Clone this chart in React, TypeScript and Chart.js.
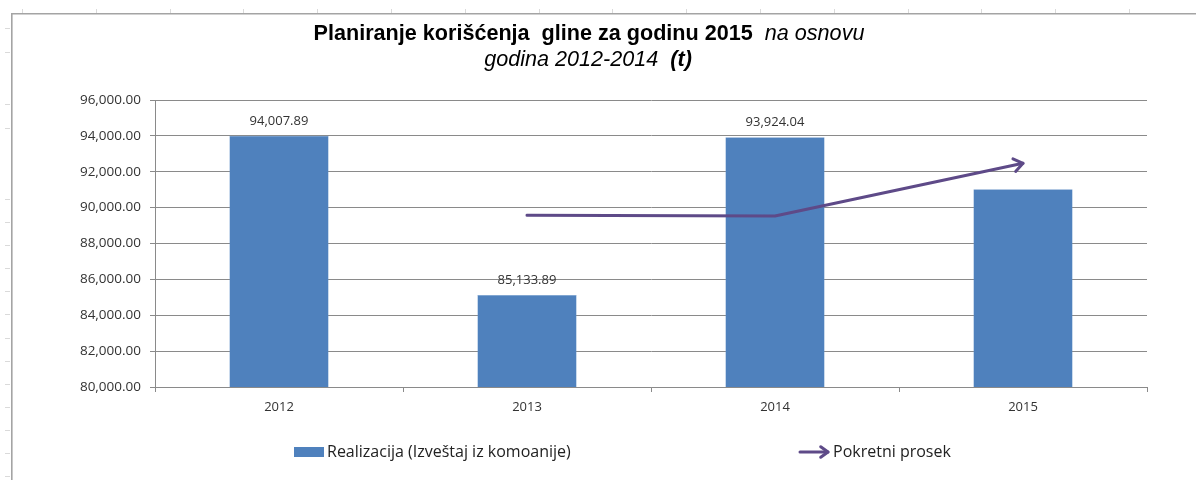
import React, { useEffect, useRef } from "react";
import { Chart, registerables } from "chart.js";

Chart.register(...registerables);

const categories = ["2012", "2013", "2014", "2015"];
const realizacija = [94007.89, 85133.89, 93924.04, 91021.94];
const pokretniProsek = [null, 89570.89, 89528.97, 92472.99];
const barLabelShown = [true, true, true, false];
const yMin = 80000;
const yMax = 96000;
const yStep = 2000;

const seriesNames = ["Realizacija (Izveštaj iz komoanije)", "Pokretni prosek"];
const titleLine1 = [
  { text: "Planiranje korišćenja  gline za godinu 2015", bold: true, italic: false },
  { text: "  na osnovu", bold: false, italic: true },
];
const titleLine2 = [
  { text: "godina 2012-2014 ", bold: false, italic: true },
  { text: " (t)", bold: true, italic: true },
];

const BAR_COLOR = "#4F81BD";
const LINE_COLOR = "#5E4A88";
const GRID_COLOR = "#8A8A8A";
const TEXT_COLOR = "#333333";
const TICK_FONT = { family: "'Open Sans'", size: 13 };
const Y_TICK_FONT = { family: "'Open Sans'", size: 13.5 };

const fmt = (v: number) =>
  v.toLocaleString("en-US", { minimumFractionDigits: 2, maximumFractionDigits: 2 });

function drawArrowHead(ctx: CanvasRenderingContext2D, x0: number, y0: number, x1: number, y1: number, len: number) {
  const ang = Math.atan2(y1 - y0, x1 - x0);
  const spread = Math.PI / 5;
  ctx.beginPath();
  ctx.moveTo(x1 - len * Math.cos(ang - spread), y1 - len * Math.sin(ang - spread));
  ctx.lineTo(x1, y1);
  ctx.lineTo(x1 - len * Math.cos(ang + spread), y1 - len * Math.sin(ang + spread));
  ctx.stroke();
}

const framePlugin = {
  id: "frame",
  beforeDraw(chart: any) {
    const ctx = chart.ctx as CanvasRenderingContext2D;
    const W = chart.width;
    const H = chart.height;
    ctx.save();
    ctx.fillStyle = "#ffffff";
    ctx.fillRect(0, 0, W, H);
    ctx.strokeStyle = "#dadada";
    ctx.lineWidth = 1;
    for (let x = 22; x < W; x += 73.8) {
      ctx.beginPath();
      ctx.moveTo(Math.round(x) + 0.5, 9);
      ctx.lineTo(Math.round(x) + 0.5, 13);
      ctx.stroke();
    }
    const rows = [28, 52, 104, 128, 199, 222, 245, 268, 291, 314, 338, 361, 384, 407, 430, 453, 476];
    rows.forEach((y) => {
      ctx.beginPath();
      ctx.moveTo(5, y + 0.5);
      ctx.lineTo(10, y + 0.5);
      ctx.stroke();
    });
    ctx.strokeStyle = "#a4a4a4";
    ctx.lineWidth = 1.6;
    ctx.beginPath();
    ctx.moveTo(W, 13.8);
    ctx.lineTo(11.8, 13.8);
    ctx.lineTo(11.8, H);
    ctx.stroke();
    ctx.restore();
  },
};

function drawSegments(ctx: CanvasRenderingContext2D, segs: any[], cx: number, y: number, size: number) {
  const fontFor = (s: any) =>
    `${s.italic ? "italic " : ""}${s.bold ? "bold " : ""}${size}px 'Liberation Sans'`;
  let total = 0;
  const widths = segs.map((s) => {
    ctx.font = fontFor(s);
    const w = ctx.measureText(s.text).width;
    total += w;
    return w;
  });
  let x = cx - total / 2;
  segs.forEach((s, i) => {
    ctx.font = fontFor(s);
    ctx.fillText(s.text, x, y);
    x += widths[i];
  });
}

const titlePlugin = {
  id: "mixedTitle",
  afterDraw(chart: any) {
    const ctx = chart.ctx as CanvasRenderingContext2D;
    ctx.save();
    ctx.fillStyle = "#000000";
    ctx.textBaseline = "alphabetic";
    ctx.textAlign = "left";
    drawSegments(ctx, titleLine1, 589, 40, 21.6);
    drawSegments(ctx, titleLine2, 588, 66, 21.6);
    ctx.restore();
  },
};

const barLabelPlugin = {
  id: "barLabels",
  afterDatasetsDraw(chart: any) {
    const ctx = chart.ctx as CanvasRenderingContext2D;
    const meta = chart.getDatasetMeta(0);
    ctx.save();
    ctx.font = `13px 'Open Sans'`;
    ctx.fillStyle = TEXT_COLOR;
    ctx.textAlign = "center";
    ctx.textBaseline = "alphabetic";
    meta.data.forEach((el: any, i: number) => {
      if (!barLabelShown[i]) return;
      ctx.fillText(fmt(realizacija[i]), el.x, el.y - 11);
    });
    ctx.restore();
  },
};

const arrowPlugin = {
  id: "arrowEnd",
  afterDatasetsDraw(chart: any) {
    const ctx = chart.ctx as CanvasRenderingContext2D;
    const meta = chart.getDatasetMeta(1);
    const pts = meta.data.filter((_: any, i: number) => pokretniProsek[i] !== null);
    if (pts.length < 2) return;
    const a = pts[pts.length - 2];
    const b = pts[pts.length - 1];
    ctx.save();
    ctx.strokeStyle = LINE_COLOR;
    ctx.lineWidth = 3;
    ctx.lineCap = "round";
    ctx.lineJoin = "round";
    drawArrowHead(ctx, a.x, a.y, b.x, b.y, 11);
    ctx.restore();
  },
};

const legendPlugin = {
  id: "customLegend",
  afterDraw(chart: any) {
    const ctx = chart.ctx as CanvasRenderingContext2D;
    const y = 452;
    ctx.save();
    ctx.font = `16px 'Open Sans'`;
    ctx.textBaseline = "middle";
    ctx.textAlign = "left";
    ctx.fillStyle = BAR_COLOR;
    ctx.fillRect(294, y - 5, 30, 10);
    ctx.fillStyle = "#222222";
    ctx.fillText(seriesNames[0], 327, y);
    ctx.strokeStyle = LINE_COLOR;
    ctx.lineWidth = 3;
    ctx.lineCap = "round";
    ctx.lineJoin = "round";
    ctx.beginPath();
    ctx.moveTo(800, y);
    ctx.lineTo(828, y);
    ctx.stroke();
    drawArrowHead(ctx, 800, y, 828, y, 9);
    ctx.fillText(seriesNames[1], 833, y);
    ctx.restore();
  },
};

export default function App() {
  const ref = useRef<HTMLCanvasElement | null>(null);
  useEffect(() => {
    document.body.style.margin = "0";
    if (!ref.current) return;
    const chart = new Chart(ref.current, {
      type: "bar",
      data: {
        labels: categories,
        datasets: [
          {
            type: "bar",
            label: seriesNames[0],
            data: realizacija,
            backgroundColor: BAR_COLOR,
            borderColor: "#6d97cb",
            borderWidth: 0.5,
            barPercentage: 0.8,
            categoryPercentage: 0.5,
            order: 2,
          },
          {
            type: "line",
            label: seriesNames[1],
            data: pokretniProsek as any,
            borderColor: LINE_COLOR,
            borderWidth: 3,
            pointRadius: 0,
            tension: 0,
            borderCapStyle: "round",
            borderJoinStyle: "round",
            fill: false,
            order: 1,
          } as any,
        ],
      },
      options: {
        responsive: false,
        animation: false,
        devicePixelRatio: 1,
        layout: { padding: { top: 100, right: 49, bottom: 0, left: 0 } },
        plugins: {
          legend: { display: false },
          title: { display: false },
          tooltip: { enabled: false },
        },
        scales: {
          x: {
            type: "category",
            offset: true,
            grid: {
              display: true,
              drawOnChartArea: false,
              drawTicks: true,
              tickLength: 5,
              color: GRID_COLOR,
              offset: true,
            },
            border: { display: true, color: GRID_COLOR },
            ticks: { font: TICK_FONT, color: TEXT_COLOR, padding: 7 },
            afterFit: (s: any) => {
              s.height = 93;
            },
          },
          y: {
            min: yMin,
            max: yMax,
            grid: { color: GRID_COLOR, tickLength: 5, drawTicks: true },
            border: { display: true, color: GRID_COLOR },
            ticks: {
              stepSize: yStep,
              font: Y_TICK_FONT,
              color: TEXT_COLOR,
              padding: 9,
              callback: (v: any) => fmt(Number(v)),
            },
            afterFit: (s: any) => {
              s.width = 155;
            },
          },
        },
      },
      plugins: [framePlugin, titlePlugin, barLabelPlugin, arrowPlugin, legendPlugin],
    });
    return () => chart.destroy();
  }, []);
  return (
    <div style={{ width: 1196, height: 480 }}>
      <canvas ref={ref} width={1196} height={480} style={{ display: "block" }} />
    </div>
  );
}
